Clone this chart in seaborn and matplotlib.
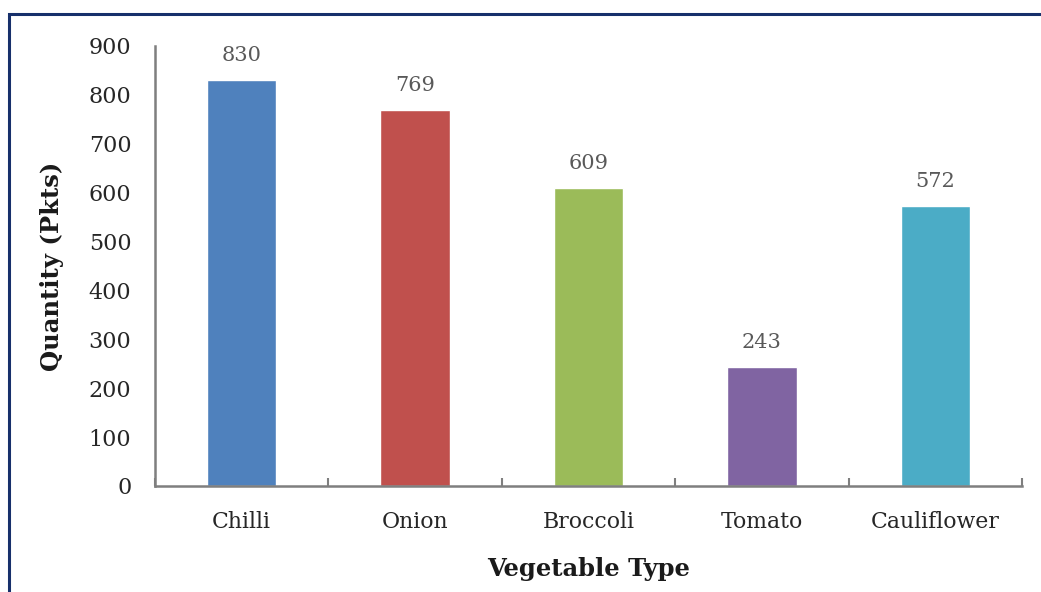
import matplotlib
matplotlib.use("Agg")
import matplotlib.pyplot as plt
import seaborn as sns
import pandas as pd
from matplotlib.patches import Rectangle

categories = ["Chilli", "Onion", "Broccoli", "Tomato", "Cauliflower"]
values = [830, 769, 609, 243, 572]
colors = ["#4F81BD", "#C0504D", "#9BBB59", "#8064A2", "#4BACC6"]
yticks = [0, 100, 200, 300, 400, 500, 600, 700, 800, 900]

sns.set_style("white")
plt.rcParams['font.family'] = ['DejaVu Serif']

df = pd.DataFrame({"cat": categories, "val": values})

fig = plt.figure(figsize=(10.41, 5.92), dpi=100)
ax = fig.add_axes([155/1041, 1-486/592, (1022-155)/1041, (486-46)/592])

sns.barplot(data=df, x="cat", y="val", hue="cat", palette=colors, legend=False,
            width=0.40, ax=ax, saturation=1)

ax.set_xlim(-0.5, len(categories)-0.5)
ax.set_ylim(0, 900)
ax.set_yticks(yticks)
ax.set_yticklabels([str(t) for t in yticks], fontsize=16, color="#262626")
ax.set_xticks(range(len(categories)))
ax.set_xticklabels(categories, fontsize=15.8, color="#262626")
ax.tick_params(axis="x", length=0, pad=18)
ax.tick_params(axis="y", direction="in", length=7, width=1.5, color="#7f7f7f", pad=17)
# category boundary ticks on x axis
for b in [k - 0.5 for k in range(len(categories)+1)]:
    ax.plot([b, b], [0, 900*8/440], color="#7f7f7f", lw=1.5, clip_on=False,
            solid_capstyle="butt")

for s in ["top", "right"]:
    ax.spines[s].set_visible(False)
for s in ["left", "bottom"]:
    ax.spines[s].set_color("#7f7f7f")
    ax.spines[s].set_linewidth(1.8)

for i, v in enumerate(values):
    ax.annotate(str(v), (i, v), xytext=(0, 11), textcoords="offset points",
                ha="center", va="bottom", fontsize=15, color="#595959")

ax.set_xlabel("Vegetable Type", fontsize=17.5, fontweight="bold", labelpad=17, color="#1a1a1a")
ax.set_ylabel("Quantity (Pkts)", fontsize=17.5, fontweight="bold", labelpad=18, color="#1a1a1a")

# figure border (cropped at right and bottom)
fig.patches.append(Rectangle((9/1041, -0.1), 1.2, 1-14/592+0.1, transform=fig.transFigure,
                             fill=False, edgecolor="#17306B", lw=2.2, zorder=10))

fig.savefig("out.png", dpi=100)
